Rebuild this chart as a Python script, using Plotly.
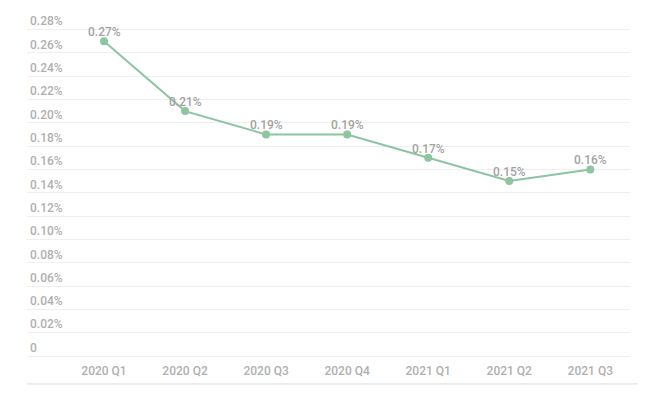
import plotly.graph_objects as go

categories = ["2020 Q1", "2020 Q2", "2020 Q3", "2020 Q4", "2021 Q1", "2021 Q2", "2021 Q3"]
values = [0.27, 0.21, 0.19, 0.19, 0.17, 0.15, 0.16]
tick_values = [0, 0.02, 0.04, 0.06, 0.08, 0.10, 0.12, 0.14, 0.16, 0.18, 0.20, 0.22, 0.24, 0.26, 0.28]
tick_labels = ["0"] + [f"{v:.2f}%" for v in tick_values[1:]]

xs = list(range(len(categories)))

fig = go.Figure()
fig.add_trace(go.Scatter(
    x=xs, y=values,
    mode="lines+markers",
    line=dict(color="#8cc5a0", width=2),
    marker=dict(color="#8cc5a0", size=8),
    cliponaxis=False,
    hoverinfo="skip",
))

for xi, v in zip(xs, values):
    fig.add_annotation(x=xi, y=v, text=f"{v:.2f}%", showarrow=False,
                       yshift=9, font=dict(family="Roboto", size=12, color="#a3a3a3", weight=500))

plot_h = 344.5
fig.update_layout(
    width=654, height=397,
    margin=dict(l=19, r=32, t=3.5, b=49, autoexpand=False),
    paper_bgcolor="white", plot_bgcolor="white",
    showlegend=False,
    font=dict(family="Roboto", size=12, color="#b0b0b0"),
    xaxis=dict(
        range=[-0.95, 6.49],
        tickvals=xs,
        ticktext=categories,
        showgrid=False, zeroline=False, showline=False,
        ticks="", ticklabelstandoff=6,
        tickfont=dict(family="Roboto", size=12, color="#b0b0b0", weight=500),
        fixedrange=True,
    ),
    yaxis=dict(
        range=[0, 0.295],
        tickvals=tick_values,
        ticktext=tick_labels,
        ticklabelposition="inside top",
        showgrid=True, gridcolor="#efefef", gridwidth=1,
        zeroline=True, zerolinecolor="#efefef", zerolinewidth=1,
        showline=False, ticks="",
        tickfont=dict(family="Roboto", size=12, color="#b0b0b0", weight=500),
        fixedrange=True,
    ),
)

fig.add_shape(type="line", xref="paper", yref="paper",
              x0=0, x1=(638 - 27) / 603, y0=-28 / plot_h, y1=-28 / plot_h,
              line=dict(color="#dddddd", width=1))

fig.write_html("out.html")
